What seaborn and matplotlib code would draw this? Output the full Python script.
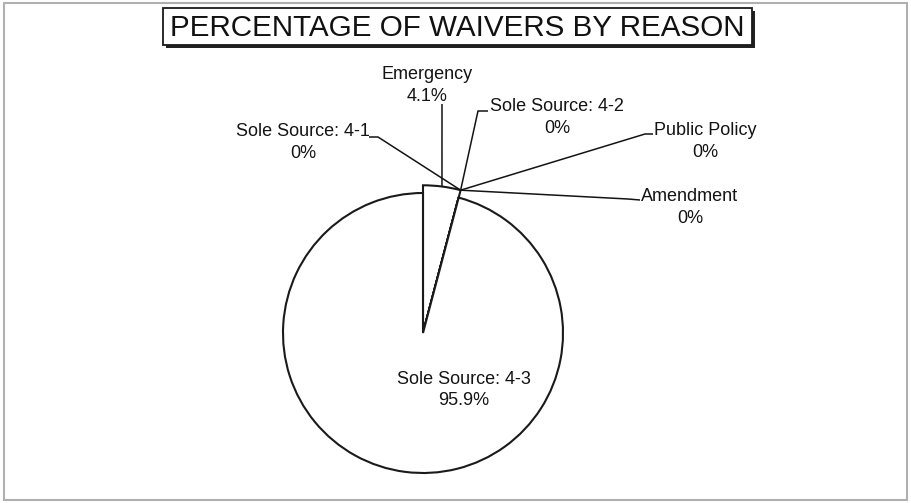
import numpy as np
import seaborn as sns
import matplotlib
matplotlib.use("Agg")
import matplotlib.pyplot as plt
from matplotlib.patches import Rectangle

# Data (clockwise from 12 o'clock)
reasons = ['Emergency', 'Sole Source: 4-1', 'Sole Source: 4-2',
           'Public Policy', 'Amendment', 'Sole Source: 4-3']
shares = [4.1, 0, 0, 0, 0, 95.9]

title = 'PERCENTAGE OF WAIVERS BY REASON'

sns.set_theme(style='white')
plt.rcParams['font.family'] = ['Liberation Sans', 'DejaVu Sans']

W, H = 911, 503
fig = plt.figure(figsize=(W / 100, H / 100), dpi=100)
ax = fig.add_axes([0, 0, 1, 1])

# pie in pixel coordinates (y grows downwards)
cx, cy, r = 423, 333, 140
wedges, _ = ax.pie(shares, center=(cx, cy), radius=r, startangle=-90,
                   counterclock=True,
                   colors=['white'] * len(shares),
                   wedgeprops=dict(edgecolor='#1a1a1a', linewidth=1.5),
                   frame=True)
# the emergency slice sticks out a little past the rim
r_out = r * 1.055
wedges[0].set_radius(r_out)
ax.set_xlim(0, W)
ax.set_ylim(H, 0)
ax.axis('off')

# label layout: centre of first text line, leader start, stub end
layout = {
    'Emergency': dict(xy=(427, 75), lead=[(442, 104)]),
    'Sole Source: 4-1': dict(xy=(303, 132), lead=[(369, 137), (378, 137)]),
    'Sole Source: 4-2': dict(xy=(557, 107), lead=[(488, 111), (478, 111)]),
    'Public Policy': dict(xy=(705, 131), lead=[(653, 134), (645, 134)]),
    'Amendment': dict(xy=(690, 197), lead=[(640, 200), (628, 199)]),
}

fs = 13
ls = 1.38
ink = '#141414'
for w, name, val in zip(wedges, reasons, shares):
    txt = f'{name}\n{val:g}%'
    if name == 'Sole Source: 4-3':
        ax.text(464, 390, txt, ha='center', va='center', fontsize=fs,
                linespacing=ls, color=ink)
        continue
    ang = np.deg2rad((w.theta1 + w.theta2) / 2)
    anchor = (w.center[0] + r_out * np.cos(ang),
              w.center[1] + r_out * np.sin(ang))
    lay = layout[name]
    tx, ty = lay['xy']
    ax.text(tx, ty + 10.5, txt, ha='center', va='center', fontsize=fs,
            linespacing=ls, color=ink)
    xs, ys = zip(*(lay['lead'] + [anchor]))
    ax.plot(xs, ys, color=ink, lw=1.1, solid_capstyle='butt')

# title box with drop shadow
ax.add_patch(Rectangle((166, 11), 589, 37, facecolor='#222222',
                       edgecolor='none', zorder=5))
ax.add_patch(Rectangle((163, 8), 589, 37, facecolor='white',
                       edgecolor='#1a1a1a', linewidth=1.3, zorder=6))
ax.text(457.5, 27.5, title, ha='center', va='center', fontsize=21.3,
        color='#111111', zorder=7)

# thin grey frame round the chart
fig.patches.append(Rectangle((0.004, 0.006), 0.992, 0.988,
                             transform=fig.transFigure, fill=False,
                             edgecolor='#b0b0b0', linewidth=1.5))

fig.savefig('out.png', dpi=100)
